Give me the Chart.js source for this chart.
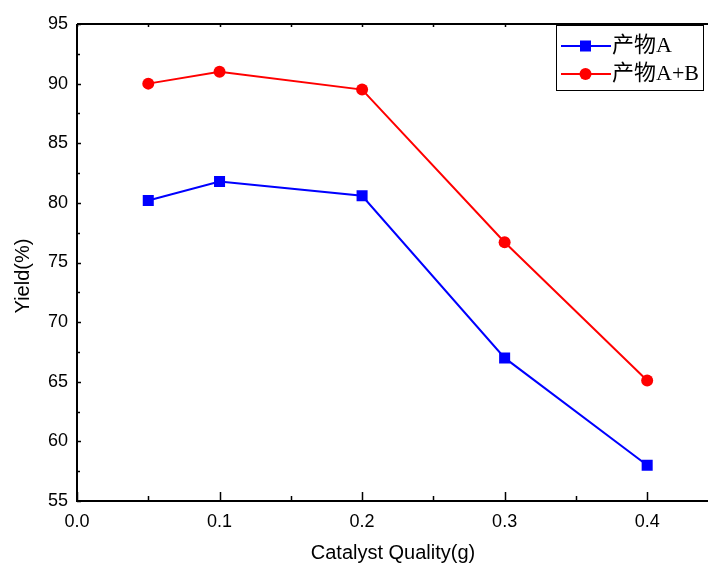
<!DOCTYPE html>
<html>
<head>
<meta charset="utf-8">
<script src="https://cdn.jsdelivr.net/npm/chart.js@4/dist/chart.umd.min.js"></script>
<style>
html,body{margin:0;padding:0;background:#fff;}
#wrap{width:708px;height:566px;position:relative;}
</style>
</head>
<body>
<div id="wrap"><canvas id="c" width="708" height="566"></canvas></div>
<script>
const categories = [0.05, 0.1, 0.2, 0.3, 0.4];
const productA = [80.2, 81.8, 80.6, 67.0, 58.0];
const productAB = [90.0, 91.0, 89.5, 76.7, 65.1];
const xTickLabels = ['0.0', '0.1', '0.2', '0.3', '0.4'];
const yTickLabels = ['55', '60', '65', '70', '75', '80', '85', '90', '95'];
const seriesNames = ['产物A', '产物A+B'];
const xTitle = 'Catalyst Quality(g)';
const yTitle = 'Yield(%)';

const LATIN = '"Liberation Sans", Arial, sans-serif';
const LEGEND_FONT = '"Liberation Serif", "Noto Sans CJK SC", serif';

const toPts = (ys) => categories.map((x, i) => ({x: x, y: ys[i]}));

const framePlugin = {
  id: 'frame',
  afterDraw(chart) {
    const {ctx, chartArea: a, scales: {x, y}} = chart;
    const right = chart.width;
    ctx.save();
    ctx.strokeStyle = '#000';
    ctx.lineWidth = 2;
    ctx.beginPath();
    ctx.moveTo(a.left, a.top); ctx.lineTo(a.left, a.bottom); ctx.lineTo(right, a.bottom);
    ctx.moveTo(a.left, a.top); ctx.lineTo(right, a.top);
    ctx.stroke();
    ctx.lineWidth = 1.5;
    ctx.beginPath();
    for (let v = 0; v <= 0.45001; v += 0.05) {
      const px = Math.round(x.getPixelForValue(v)) + 0.5;
      if (px > right) break;
      const major = Math.abs(v * 10 - Math.round(v * 10)) < 1e-6;
      const len = major ? 9 : 5;
      ctx.moveTo(px, a.bottom); ctx.lineTo(px, a.bottom - len);
      ctx.moveTo(px, a.top); ctx.lineTo(px, a.top + 3);
    }
    for (let v = 55; v <= 95.001; v += 2.5) {
      const py = Math.round(y.getPixelForValue(v)) + 0.5;
      const major = Math.abs(v / 5 - Math.round(v / 5)) < 1e-6;
      const len = major ? 4 : 3;
      ctx.moveTo(a.left, py); ctx.lineTo(a.left + len, py);
    }
    ctx.stroke();

    ctx.fillStyle = '#000';
    ctx.font = '20px ' + LATIN;
    ctx.textAlign = 'center';
    ctx.textBaseline = 'middle';
    ctx.fillText(xTitle, 393, 553);
    ctx.save();
    ctx.translate(23, 276);
    ctx.rotate(-Math.PI / 2);
    ctx.fillText(yTitle, 0, 0);
    ctx.restore();

    const lx = 556, ly = 25, lw = 147, lh = 65;
    ctx.lineWidth = 1;
    ctx.strokeStyle = '#000';
    ctx.fillStyle = '#fff';
    ctx.fillRect(lx, ly, lw, lh);
    ctx.strokeRect(lx + 0.5, ly + 0.5, lw, lh);
    const rows = [46, 74];
    chart.data.datasets.forEach((ds, i) => {
      const ry = rows[i];
      ctx.strokeStyle = ds.borderColor;
      ctx.lineWidth = 2;
      ctx.beginPath();
      ctx.moveTo(561, ry); ctx.lineTo(611, ry);
      ctx.stroke();
      ctx.fillStyle = ds.backgroundColor;
      if (ds.pointStyle === 'rect') {
        ctx.fillRect(580, ry - 5.5, 11, 11);
      } else {
        ctx.beginPath(); ctx.arc(585.5, ry, 6, 0, Math.PI * 2); ctx.fill();
      }
      ctx.fillStyle = '#000';
      ctx.font = '22px ' + LEGEND_FONT;
      ctx.textAlign = 'left';
      ctx.textBaseline = 'middle';
      ctx.fillText(ds.label, 612, ry);
    });
    ctx.restore();
  }
};

new Chart(document.getElementById('c'), {
  type: 'line',
  data: {
    datasets: [
      {
        label: seriesNames[0],
        data: toPts(productA),
        borderColor: '#0000ff',
        backgroundColor: '#0000ff',
        borderWidth: 2,
        pointStyle: 'rect',
        pointRadius: 7.8,
        pointBorderWidth: 0,
        pointHoverRadius: 7.8,
        tension: 0
      },
      {
        label: seriesNames[1],
        data: toPts(productAB),
        borderColor: '#ff0000',
        backgroundColor: '#ff0000',
        borderWidth: 2,
        pointStyle: 'circle',
        pointRadius: 6,
        pointBorderWidth: 0,
        pointHoverRadius: 6,
        tension: 0
      }
    ]
  },
  options: {
    responsive: false,
    animation: false,
    events: [],
    layout: {padding: {top: 24, right: 0, left: 0, bottom: 0}},
    plugins: {legend: {display: false}, tooltip: {enabled: false}},
    scales: {
      x: {
        type: 'linear',
        min: 0,
        max: 0.4372,
        grid: {display: false, drawTicks: false},
        border: {display: false},
        afterFit(s) { s.height = 65; s.paddingRight = 0; s.paddingLeft = 0; },
        afterBuildTicks(s) {
          s.ticks = xTickLabels.map(t => ({value: parseFloat(t)}));
        },
        ticks: {
          color: '#000',
          font: {family: LATIN, size: 18},
          padding: 10,
          maxRotation: 0,
          autoSkip: false,
          callback: (v) => xTickLabels.find(t => Math.abs(parseFloat(t) - v) < 1e-6) || ''
        }
      },
      y: {
        min: 55,
        max: 95,
        grid: {display: false, drawTicks: false},
        border: {display: false},
        afterFit(s) { s.width = 77; s.paddingTop = 0; s.paddingBottom = 0; },
        afterBuildTicks(s) {
          s.ticks = yTickLabels.map(t => ({value: parseFloat(t)}));
        },
        ticks: {
          color: '#000',
          font: {family: LATIN, size: 18},
          padding: 9,
          callback: (v) => yTickLabels.find(t => parseFloat(t) === v) || ''
        }
      }
    }
  },
  plugins: [framePlugin]
});
</script>
</body>
</html>
